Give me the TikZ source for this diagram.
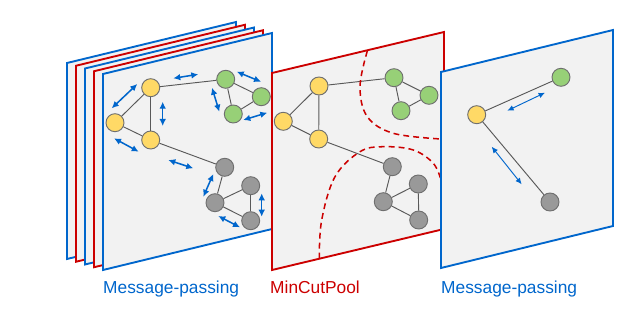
\documentclass[tikz,border=0pt]{standalone}
\usepackage{fontspec}
\setmainfont{Liberation Sans}
\usetikzlibrary{positioning,arrows.meta}
\definecolor{blueE}{HTML}{0066CC}
\definecolor{redE}{HTML}{CC0000}
\definecolor{paneF}{HTML}{F2F2F2}
\definecolor{yellowF}{HTML}{FFD966}
\definecolor{greenF}{HTML}{97D077}
\definecolor{grayF}{HTML}{999999}
\definecolor{nodeE}{HTML}{6F6F6F}
\definecolor{edgeC}{HTML}{595959}

\begin{document}
\begin{tikzpicture}[
    x=0.03cm, y=-0.03cm,
    >={Latex[length=2.1mm,width=2.0mm]},
    font=\fontsize{14.8}{17}\selectfont,
    pane/.style={fill=paneF,line width=1.6pt,line join=miter},
    vtx/.style={circle,draw=nodeE,line width=0.8pt,minimum size=0.54cm,inner sep=0pt},
    yel/.style={vtx,fill=yellowF},
    grn/.style={vtx,fill=greenF},
    gry/.style={vtx,fill=grayF},
    link/.style={draw=edgeC,line width=0.8pt},
    msg/.style={<->,draw=blueE,line width=1.3pt},
    msgthin/.style={<->,draw=blueE,line width=0.8pt,
                    >={Latex[length=1.9mm,width=1.7mm]}},
    cut/.style={draw=redE,line width=1.3pt,dash pattern=on 5pt off 3.5pt},
    lbl/.style={anchor=base west,inner sep=0pt},
]
\useasboundingbox (0,0) rectangle (638,310);

% =====================================================================
%  Stack of message-passing layers
% =====================================================================
\foreach \k/\c in {4/blueE,3/redE,2/blueE,1/redE}
   \draw[pane,draw=\c,shift={(-9*\k,-2.75*\k)}]
        (103,74) -- (272,33) -- (272,229) -- (103,270) -- cycle;
\draw[pane,draw=blueE] (103,74) -- (272,33) -- (272,229) -- (103,270) -- cycle;

\node[yel] (ay1) at (150.7,87.7)  {};
\node[yel] (ay2) at (115,122.7)   {};
\node[yel] (ay3) at (150.7,140)   {};
\node[grn] (ag1) at (225.7,79.3)  {};
\node[grn] (ag2) at (261.3,96.7)  {};
\node[grn] (ag3) at (233.3,114)   {};
\node[gry] (ak1) at (224.7,167.3) {};
\node[gry] (ak2) at (250.7,185.7) {};
\node[gry] (ak3) at (215,202.7)   {};
\node[gry] (ak4) at (250.7,220.7) {};

\foreach \a/\b in {ay1/ay2,ay1/ay3,ay2/ay3,ay1/ag1,ag1/ag2,ag1/ag3,ag2/ag3,
                   ay3/ak1,ak1/ak3,ak3/ak2,ak2/ak4,ak3/ak4}
   \draw[link] (\a) -- (\b);

% messages exchanged along the edges
\foreach \p/\q in {{111.7,108.3}/{137.3,84},{162.7,101.7}/{162.7,126},
                   {114,138.3}/{138.7,151.7},{173.3,78.3}/{198.3,74.3},
                   {236.7,71.7}/{261,81.7},{212,87.7}/{219.3,111.7},
                   {243.3,120}/{267.3,112.7},{168.3,160}/{193.3,168.3},
                   {213.3,174}/{203.3,196.7},{261.7,193.3}/{261.7,216.7},
                   {218.3,216}/{240,227.3}}
   \draw[msg] (\p) -- (\q);

\node[lbl,blueE] (lmp1) at (103,293) {Message-passing};

% =====================================================================
%  MinCutPool layer
% =====================================================================
\draw[pane,draw=redE] (272,73) -- (444,32) -- (444,229) -- (272,270) -- cycle;

\node[yel] (by1) at (319,86)      {};
\node[yel] (by2) at (283.3,121.3) {};
\node[yel] (by3) at (318.7,139)   {};
\node[grn] (bg1) at (394,77.7)    {};
\node[grn] (bg2) at (429,95.3)    {};
\node[grn] (bg3) at (401,110.7)   {};
\node[gry] (bk1) at (392.3,166.7) {};
\node[gry] (bk2) at (418.3,184)   {};
\node[gry] (bk3) at (383.3,201.7) {};
\node[gry] (bk4) at (418.7,220)   {};

\foreach \a/\b in {by1/by2,by1/by3,by2/by3,by1/bg1,bg1/bg2,bg1/bg3,bg2/bg3,
                   by3/bk1,bk1/bk3,bk3/bk2,bk2/bk4,bk3/bk4}
   \draw[link] (\a) -- (\b);

% cluster boundaries
\draw[cut] plot[smooth,tension=0.6] coordinates
     {(367.3,51) (360,86.7) (367.3,116.7) (393.3,133.3) (441,139)};
\draw[cut] plot[smooth,tension=0.6] coordinates
     {(319.3,258.5) (321.7,220) (335,176.7) (360,151.7) (383.3,146.7)
      (413.3,150) (433.3,163.3) (441,180)};

\node[lbl,redE] (lmc) at (270,293) {MinCutPool};

% =====================================================================
%  Message-passing on the pooled graph
% =====================================================================
\draw[pane,draw=blueE] (441,72) -- (613,30) -- (613,226) -- (441,268) -- cycle;

\node[yel] (cy) at (476.7,114.7) {};
\node[grn] (cg) at (561,77.3)    {};
\node[gry] (ck) at (550,202)     {};
\draw[link] (cy) -- (cg);
\draw[link] (cy) -- (ck);

\draw[msgthin] (507.3,110.7) -- (545,92.7);
\draw[msgthin] (491.7,146.7) -- (521.7,184.3);

\node[lbl,blueE] (lmp2) at (441,293) {Message-passing};

\end{tikzpicture}
\end{document}
